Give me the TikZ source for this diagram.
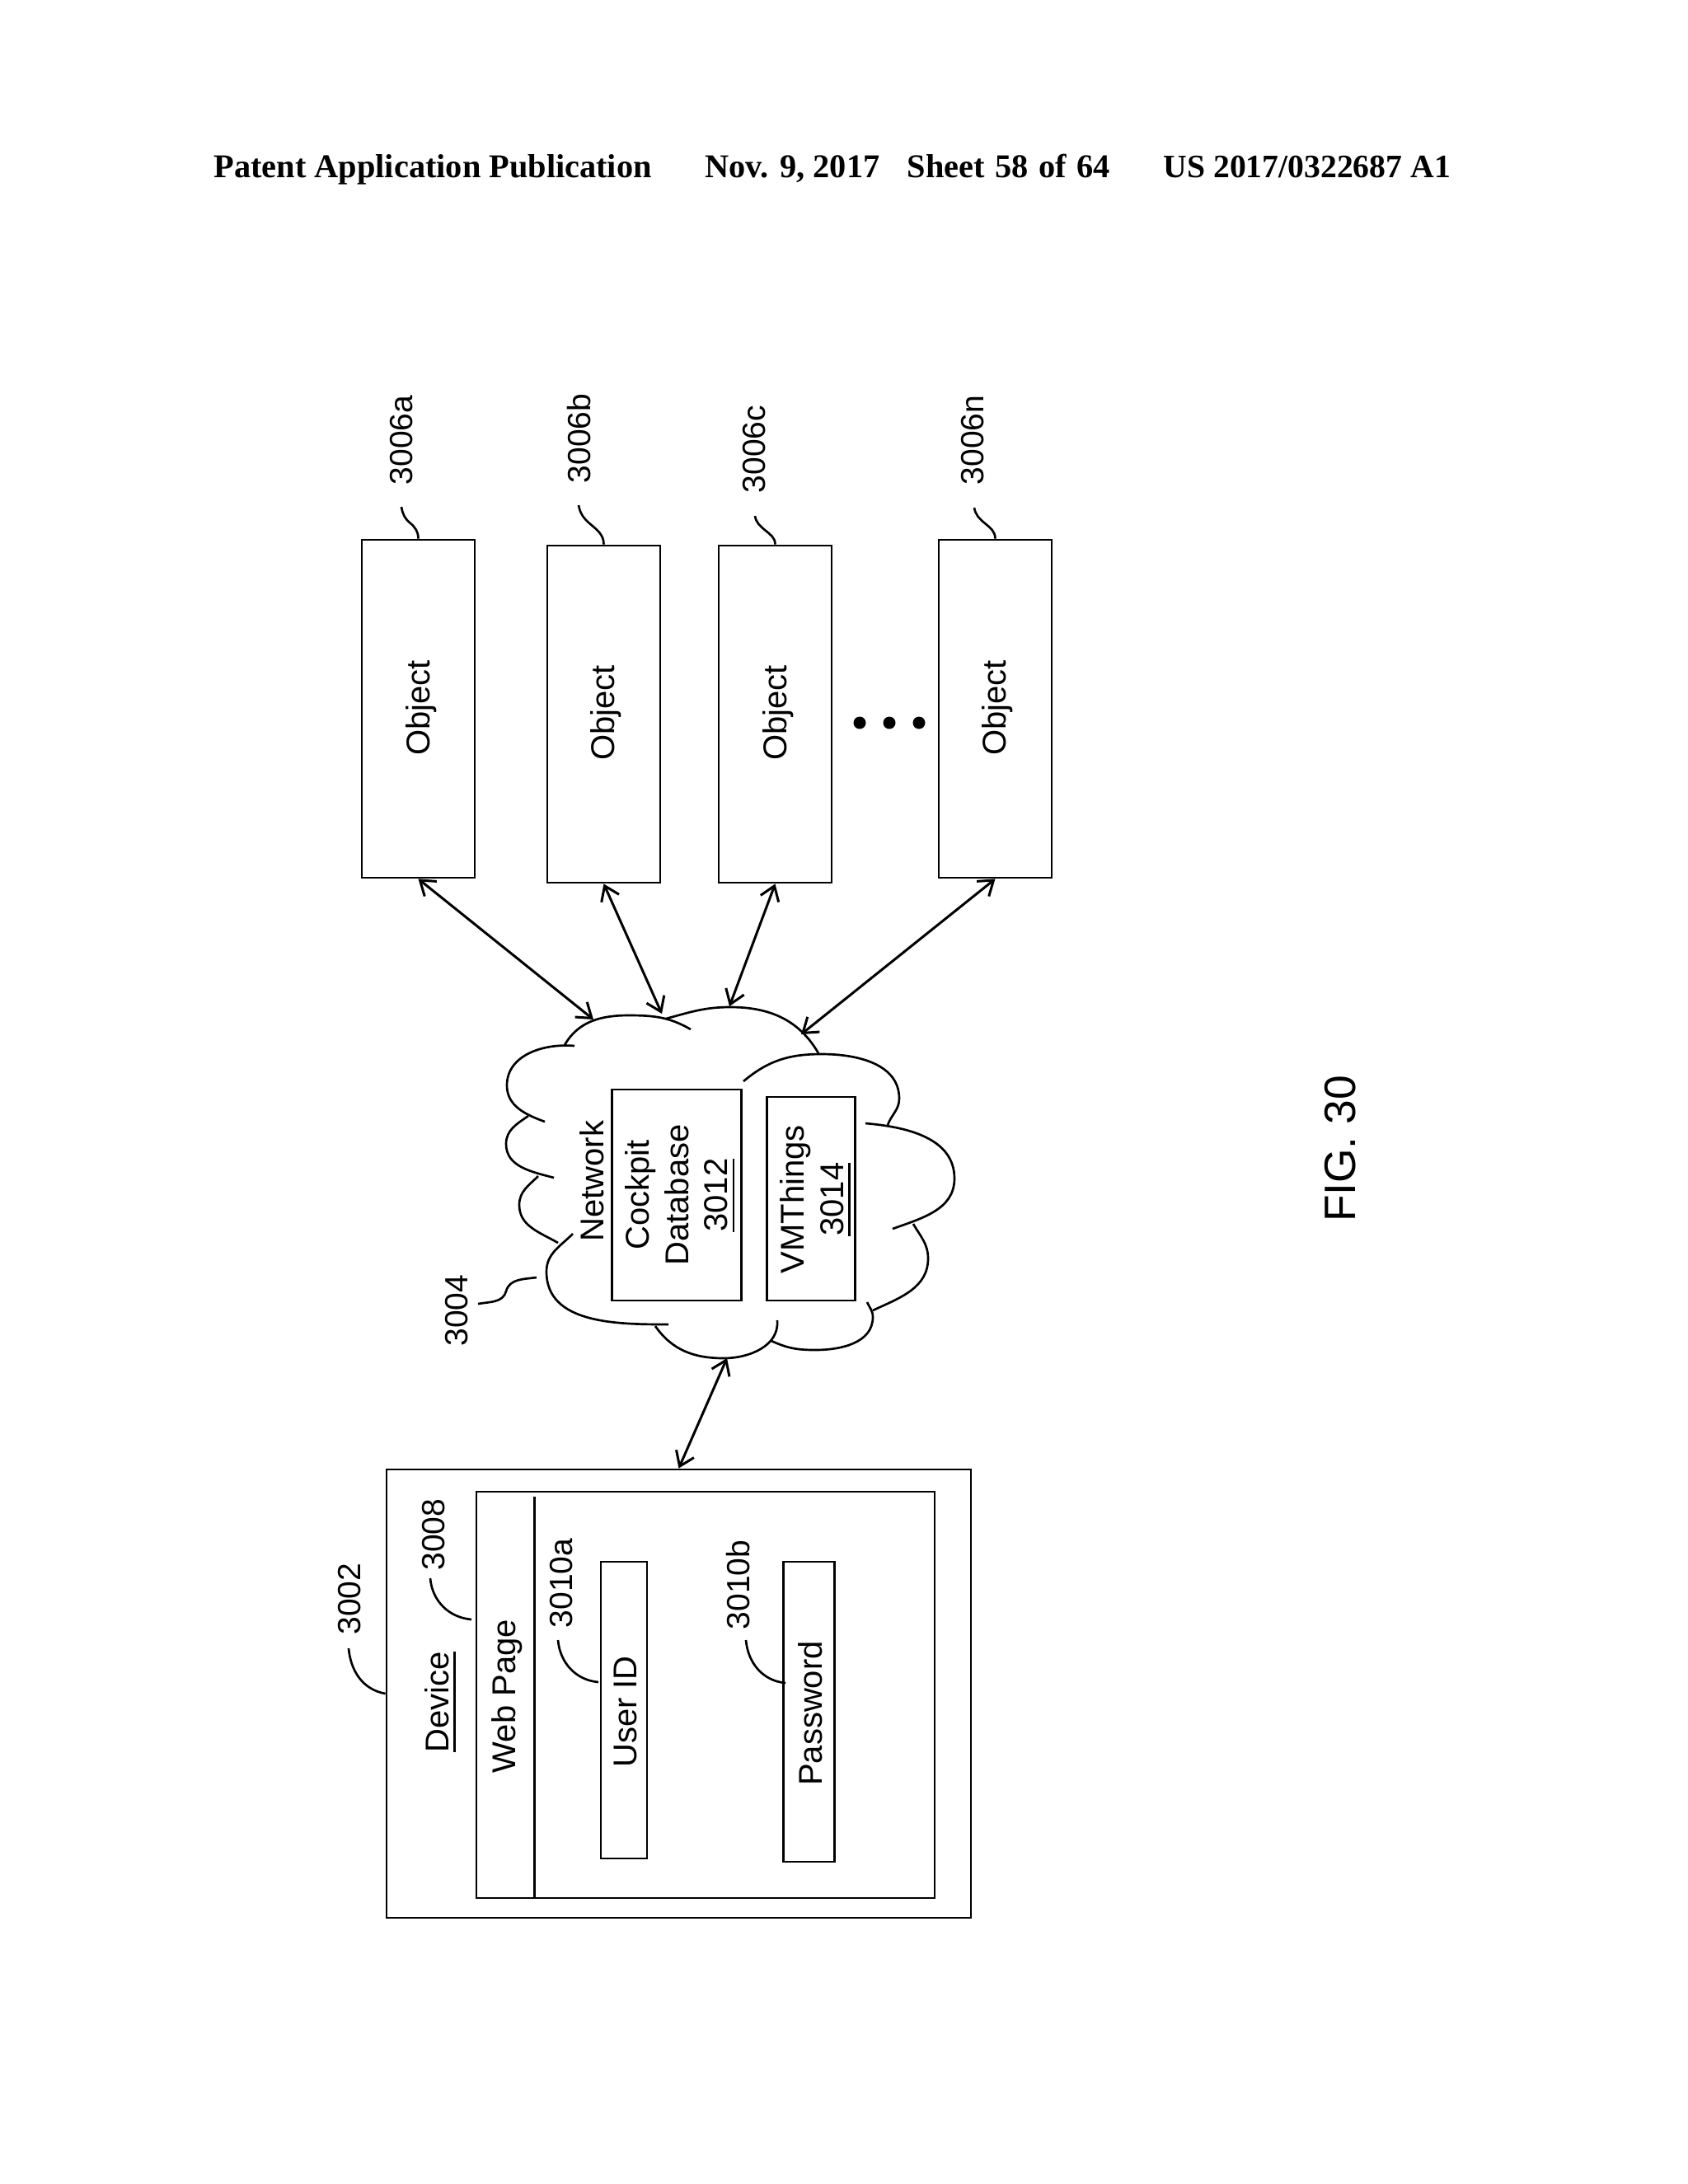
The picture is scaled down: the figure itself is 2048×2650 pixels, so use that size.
\documentclass[tikz,border=0pt]{standalone}
\usepackage{fontspec}
\setmainfont{Liberation Sans}
\newfontfamily\headfont{Liberation Serif}
\usetikzlibrary{arrows.meta,calc}
\newcommand{\ulin}[1]{\vtop{\hbox{#1}\kern 1.6pt\hrule height 0.85pt}}
\tikzset{
  box/.style 2 args={draw,line width=0.85pt,inner sep=0pt,minimum width=#1*0.3pt,minimum height=#2*0.3pt},
  tag/.style={rotate=90,inner sep=0pt,font=\fontsize{11.7}{14.3}\selectfont,align=center},
  txt/.style={tag,font=\fontsize{12}{14.3}\selectfont},
  head/.style={anchor=base west,inner sep=0pt,font=\headfont\bfseries\fontsize{12.1}{14}\selectfont},
  link/.style={line width=0.9pt,{Straight Barb[length=5pt,width=7pt]}-{Straight Barb[length=5pt,width=7pt]}},
  lead/.style={line width=0.8pt},
  cloudline/.style={line width=0.8pt}
}

\begin{document}
\begin{tikzpicture}[x=0.3pt,y=-0.3pt]
      \useasboundingbox (0,0) rectangle (2048,2650);

      % Header
      \node[head] (h1) at (259,215) {Patent Application Publication};
      \node[head] (h2) at (855,215) {Nov. 9, 2017};
      \node[head] (h3) at (1100,215) {\spaceskip=3.8pt Sheet 58 of 64};
      \node[head,font=\headfont\bfseries\fontsize{11.9}{14}\selectfont] (h4) at (1411,215) {US 2017/0322687 A1};

      % Boxes
      \node[box={137}{410}] (obja) at (507.5,860) {};
      \node[box={137}{409}] (objb) at (732.5,866.5) {};
      \node[box={137}{409}] (objc) at (940.5,866.5) {};
      \node[box={137}{410}] (objn) at (1207.5,860) {};
      \node[box={157}{256}] (cockpit) at (821,1450) {};
      \node[box={107}{247}] (vmthings) at (984,1454.5) {};
      \node[box={709}{544}] (device) at (823.5,2055) {};
      \node[box={556}{493}] (webpage) at (856,2056.5) {};
      \node[box={56}{360}] (userid) at (757,2075) {};
      \node[box={62}{364}] (password) at (981.5,2077) {};
      \coordinate (webtop) at (648,1816);
      \coordinate (webbot) at (648,2304);
      \draw[line width=0.9pt] (webtop) -- (webbot);

      % Texts
      \begin{scope}[every node/.style={txt}]
        \node (tobja) at (511,859) {Object};
        \node (tobjb) at (735,865) {Object};
        \node (tobjc) at (944,865) {Object};
        \node (tobjn) at (1210,859) {Object};
        \node (tnet) at (718,1433) {Network};
        \node (tcockpit) at (825,1450) {Cockpit\\Database\\\ulin{3012}};
        \node (tvm) at (989,1455) {VMThings\\\ulin{3014}};
        \node (tdevice) at (534,2065) {\ulin{Device}};
        \node (tweb) at (615,2058) {Web Page};
        \node (tuser) at (759,2077) {User ID};
        \node (tpass) at (983,2079) {Password};
      \end{scope}
      \begin{scope}[every node/.style={tag}]
        \node (l6a) at (487,534) {3006a};
        \node (l6b) at (703,532) {3006b};
        \node (l6c) at (915,545) {3006c};
        \node (l6n) at (1180,534) {3006n};
        \node (l4) at (554,1590) {3004};
        \node (l2) at (424,1940) {3002};
        \node (l8) at (526,1862) {3008};
        \node (l10a) at (681,1921) {3010a};
        \node (l10b) at (896,1923) {3010b};

        \node[font=\fontsize{16}{18}\selectfont] (fig) at (1626,1394) {FIG. 30};
      \end{scope}

      % Dots
      \foreach \x in {1043,1079,1115}
        \fill (\x,877) circle (7.5);

      % Cloud
      \begin{scope}[cloudline]
        \draw (838,1249) to[out=150,in=0] (763,1232) to[out=180,in=60] (685,1268);
        \draw (697,1269) to[out=175,in=90] (615,1317) to[out=-90,in=160] (661,1361);
        \draw (641,1354) to[out=215,in=90] (614,1388) to[out=-90,in=165] (672,1429);
        \draw (653,1427) to[out=225,in=90] (630,1462) to[out=-90,in=150] (677,1508);
        \draw (695,1497) to[out=225,in=90] (663,1543) to[out=-90,in=180] (811,1607);
        \draw (795,1609) to[out=-55,in=180] (878,1648) to[out=0,in=-85] (943,1602);
        \draw (936,1627) to[out=-25,in=180] (989,1638) to[out=0,in=-90] (1059,1598) to[out=90,in=-65] (1052,1580);
        \draw (1059,1590) to[out=25,in=-90] (1126,1527) to[out=90,in=-60] (1108,1485);
        \draw (1083,1491) to[out=20,in=-90] (1158,1430) to[out=90,in=-5] (1050,1363);
        \draw (1077,1365) to[out=70,in=-90] (1091,1333) to[out=90,in=0] (997,1279) to[out=180,in=40] (902,1312);
        \draw (993,1278) to[out=120,in=0] (886,1222) to[out=180,in=15] (808,1236);
      \end{scope}

      % Cloud ports
      \coordinate (neta) at (720,1237);
      \coordinate (netb) at (803,1230);
      \coordinate (netc) at (885,1221);
      \coordinate (netn) at (972,1255);
      \coordinate (netd) at (882,1648);

      % Edges
      \begin{scope}[every path/.style={link}]
        \draw (obja.south) -- (neta);
        \draw (objb.south) -- (netb);
        \draw (objc.south) -- (netc);
        \draw (objn.south) -- (netn);
        \draw (netd) -- (device.north);
      \end{scope}

      % Leaders
      \coordinate (enda) at (487,615);
      \coordinate (endb) at (702,613);
      \coordinate (endc) at (916,626);
      \coordinate (endn) at (1182,616);
      \coordinate (cloudtag) at (651,1550);
      \coordinate (endcloud) at (580,1582);
      \coordinate (enddev) at (423,2000);
      \coordinate (tagweb) at (572,1965);
      \coordinate (endweb) at (522,1915);
      \coordinate (taguser) at (726,2041);
      \coordinate (enduser) at (677,1990);
      \coordinate (tagpass) at (953,2042);
      \coordinate (endpass) at (905,1990);
      \begin{scope}[every path/.style={lead}]
        \draw (obja.north) to[out=90,in=-40] ($(obja.north)!0.5!(enda)$) to[out=140,in=-80] (enda);
        \draw (objb.north) to[out=90,in=-40] ($(objb.north)!0.5!(endb)$) to[out=140,in=-80] (endb);
        \draw (objc.north) to[out=90,in=-40] ($(objc.north)!0.5!(endc)$) to[out=140,in=-80] (endc);
        \draw (objn.north) to[out=90,in=-40] ($(objn.north)!0.5!(endn)$) to[out=140,in=-80] (endn);
        \draw (cloudtag) to[out=188,in=75] ($(cloudtag)!0.52!(endcloud)$) to[out=-105,in=10] (endcloud);
        \draw (device.west) to[out=170,in=-85] (enddev);
        \draw (tagweb) to[out=175,in=-85] (endweb);
        \draw (taguser) to[out=175,in=-85] (enduser);
        \draw (tagpass) to[out=175,in=-85] (endpass);
      \end{scope}

    \end{tikzpicture}
\end{document}
